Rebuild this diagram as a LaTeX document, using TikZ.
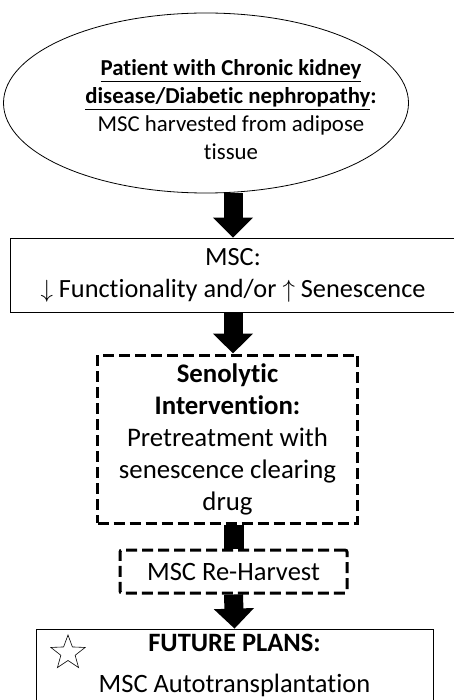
\documentclass[tikz,border=0pt]{standalone}
\usepackage{fontspec}
\setmainfont{Carlito}[Ligatures=NoCommon]
\usetikzlibrary{shapes.geometric,arrows.meta}

\tikzset{
  fat/.style={line width=19pt, -{Triangle[width=39pt,length=20pt]}},
  plainbox/.style={draw, line width=0.8pt, align=center, inner sep=0pt},
  dashbox/.style={draw, line width=3pt, dash pattern=on 11pt off 5pt, align=center, inner sep=0pt},
}

\begin{document}
\begin{tikzpicture}[x=1pt,y=1pt]
  \useasboundingbox (0,0) rectangle (453,-700);
  \node[draw, ellipse, line width=0.8pt, minimum width=405pt, minimum height=180pt] (pat) at (206,-103) {};
  \node[align=center, font=\fontsize{22.8}{28}\selectfont] (pattext) at (231,-110)
    {\textbf{\underline{Patient with Chronic kidney}}\\ \textbf{\underline{disease/Diabetic nephropathy}:}\\ MSC harvested from adipose\\ tissue};
  \node[plainbox, minimum width=446pt, minimum height=74pt, font=\fontsize{26.3}{32}\selectfont] (msc) at (233,-275)
    {MSC:\\ $\downarrow$ Functionality and/or $\uparrow$ Senescence};
  \node[dashbox, minimum width=260pt, minimum height=168pt, font=\fontsize{26.8}{32}\selectfont] (seno) at (227.5,-439)
    {\textbf{Senolytic}\\ \textbf{Intervention:}\\ Pretreatment with\\ senescence clearing\\ drug};
  \node[dashbox, rounded corners=2pt, minimum width=227pt, minimum height=43pt, font=\fontsize{26.5}{30}\selectfont] (reh) at (233.5,-571.5)
    {MSC Re-Harvest};
  \node[plainbox, minimum width=397pt, minimum height=73pt, font=\fontsize{26.5}{32}\selectfont] (fut) at (234.5,-665.5)
    {\textbf{FUTURE PLANS:}\\[9pt] MSC Autotransplantation};
  \node[draw, star, star points=5, star point ratio=2.4, minimum size=36pt, inner sep=0pt, line width=0.6pt] (star) at (68,-653) {};
  \draw[fat] (pat.south -| msc.north) -- (msc.north);
  \draw[fat] (msc.south) -- (msc.south |- seno.north);
  \draw[line width=20pt] (seno.south -| reh.north) -- (reh.north);
  \draw[fat] (reh.south) -- (fut.north);
\end{tikzpicture}
\end{document}
